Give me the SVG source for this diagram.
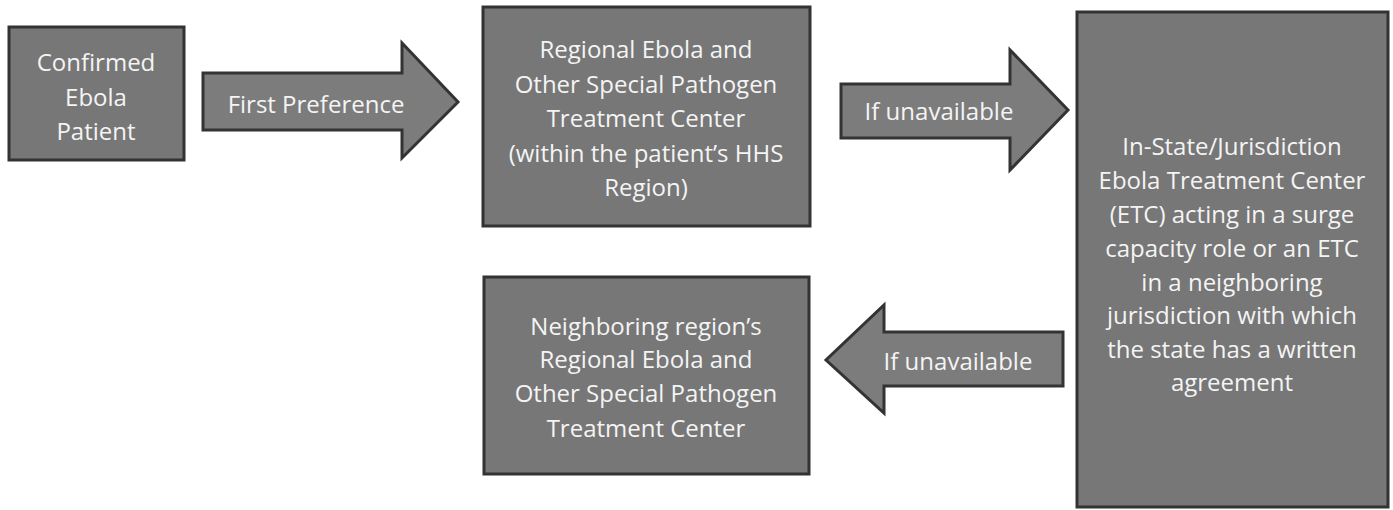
<svg xmlns="http://www.w3.org/2000/svg" width="1393" height="510" viewBox="0 0 1393 510">
<style>
.box{fill:#777;stroke:#333;stroke-width:3}
.arr{fill:#7c7c7c;stroke:#333;stroke-width:3;stroke-linejoin:miter}
text{font-family:"Open Sans","Liberation Sans",sans-serif;font-size:24px;fill:#f4f4f4;text-anchor:middle;dominant-baseline:central}
</style>
<rect width="1393" height="510" fill="#fff"/>
<g id="connectors">
<g id="arrow-first">
<polygon class="arr" points="203,73 402,73 402,43 458,102 402,158 402,130 203,130"/>
<text x="316" y="103">First Preference</text>
</g>
<g id="arrow-unavail1">
<polygon class="arr" points="841,84 1010,84 1010,50 1068,110 1010,170 1010,138 841,138"/>
<text x="939" y="110">If unavailable</text>
</g>
<g id="arrow-unavail2">
<polygon class="arr" points="1063,332 884,332 884,305 826,360 884,413 884,386 1063,386"/>
<text x="958" y="360">If unavailable</text>
</g>
</g>
<g id="node-patient">
<rect class="box" x="9" y="27" width="175" height="133"/>
<text x="96" y="61">Confirmed</text>
<text x="96" y="96">Ebola</text>
<text x="96" y="130">Patient</text>
</g>
<g id="node-regional">
<rect class="box" x="483" y="7" width="327" height="219"/>
<text x="646" y="48">Regional Ebola and</text>
<text x="646" y="83">Other Special Pathogen</text>
<text x="646" y="117">Treatment Center</text>
<text x="646" y="152">(within the patient’s HHS</text>
<text x="646" y="186">Region)</text>
</g>
<g id="node-instate">
<rect class="box" x="1077" y="12" width="311" height="495"/>
<text x="1232" y="145">In-State/Jurisdiction</text>
<text x="1232" y="179">Ebola Treatment Center</text>
<text x="1232" y="213">(ETC) acting in a surge</text>
<text x="1232" y="247">capacity role or an ETC</text>
<text x="1232" y="281">in a neighboring</text>
<text x="1232" y="314">jurisdiction with which</text>
<text x="1232" y="348">the state has a written</text>
<text x="1232" y="381">agreement</text>
</g>
<g id="node-neighboring">
<rect class="box" x="484" y="277" width="325" height="197"/>
<text x="646" y="325">Neighboring region’s</text>
<text x="646" y="358">Regional Ebola and</text>
<text x="646" y="392">Other Special Pathogen</text>
<text x="646" y="427">Treatment Center</text>
</g>
</svg>
